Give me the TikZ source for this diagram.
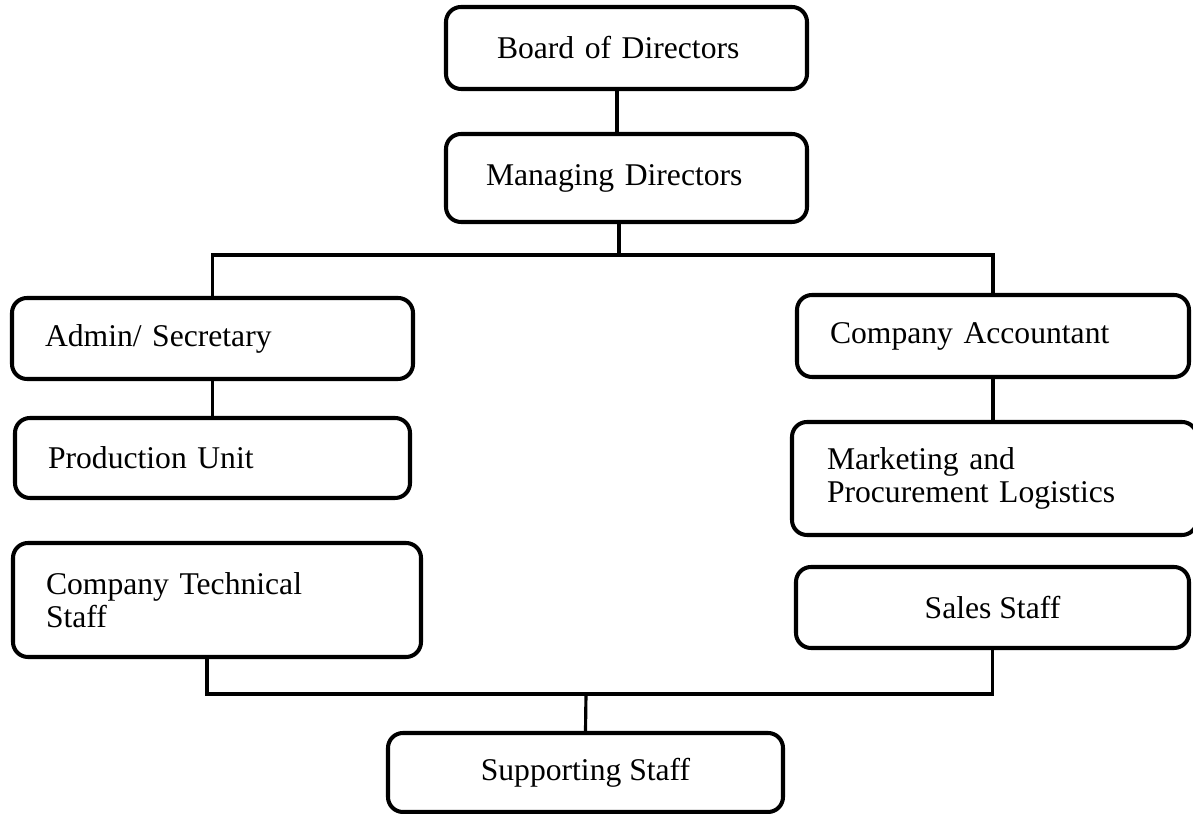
\documentclass[tikz,border=0pt]{standalone}
\usepackage{fontspec}
\setmainfont{Liberation Serif}
\usepackage{tikz}
\usetikzlibrary{positioning, calc}

\begin{document}
\begin{tikzpicture}[
    unit/.style={draw, rounded corners=0.3cm, line width=2.3pt,
                 font=\fontsize{18}{19}\selectfont, inner ysep=2pt},
    leftunit/.style={unit, align=left, inner xsep=0.66cm},
    midunit/.style={unit, align=center},
    link/.style={line width=1.8pt}
]
    \useasboundingbox (0, 0) rectangle (23.86, 16.28);

    % Top management
    \node[leftunit, inner xsep=1.02cm, text width=5.18cm, minimum height=1.64cm]
        (board) at (12.53, 15.32) {Board of Directors};
    \node[leftunit, inner xsep=0.8cm, text width=5.62cm, minimum height=1.76cm]
        (mgmt) at (12.53, 12.72) {Managing Directors};

    % Left branch
    \node[leftunit, text width=6.7cm, minimum height=1.62cm]
        (admin) at (4.25, 9.51) {Admin/ Secretary};
    \node[leftunit, text width=6.58cm, minimum height=1.6cm]
        (prod) at (4.25, 7.12) {Production Unit};
    \node[leftunit, text width=6.84cm, minimum height=2.28cm]
        (tech) at (4.34, 4.28) {Company Technical\\Staff};

    % Right branch
    \node[leftunit, text width=6.52cm, minimum height=1.64cm]
        (acct) at (19.86, 9.56) {Company Accountant};
    \node[leftunit, inner xsep=0.7cm, text width=6.7cm, minimum height=2.26cm]
        (mkt) at (19.89, 6.71) {Marketing and\\Procurement Logistics};
    \node[midunit, minimum width=7.86cm, minimum height=1.62cm]
        (sales) at (19.85, 4.13) {Sales Staff};

    % Bottom
    \node[midunit, minimum width=7.9cm, minimum height=1.58cm]
        (supp) at (11.71, 0.83) {Supporting Staff};

    % Bus lines
    \coordinate (topbus) at (12.38, 11.18);
    \coordinate (botbus) at (11.72, 2.40);

    % Connectors
    \draw[link] ([xshift=-0.19cm]board.south) -- ([xshift=-0.19cm]mgmt.north);
    \draw[link] (mgmt.south -| topbus) -- (topbus);
    \draw[link] (admin.north) |- (topbus) -| (acct.north);
    \draw[link] (admin.south) -- (prod.north);
    \draw[link] (acct.south) -- (acct.south |- mkt.north);
    \draw[link] ([xshift=-0.2cm]tech.south) |- (botbus) -| (sales.south);
    \draw[link] (botbus) -- (supp.north);
\end{tikzpicture}
\end{document}
